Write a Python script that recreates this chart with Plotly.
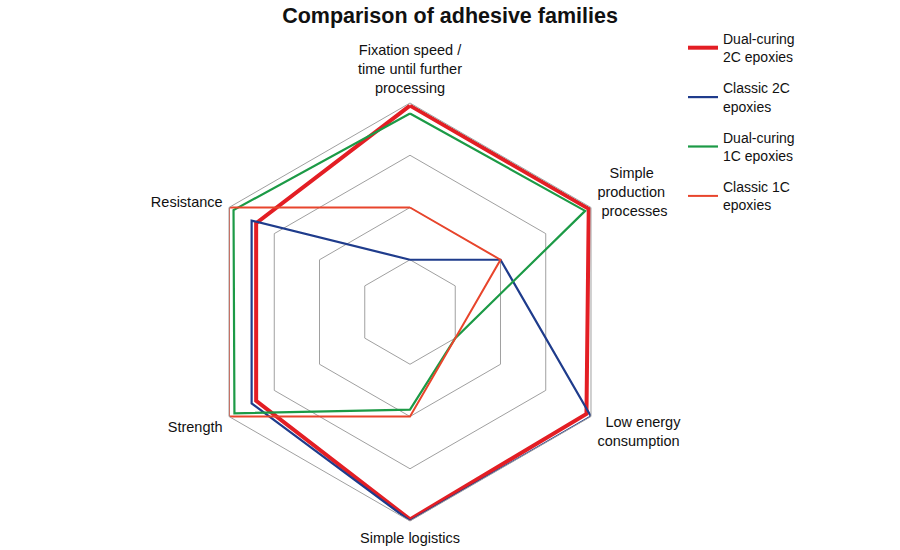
import plotly.graph_objects as go

NB = "\u00a0"
categories = [
    "Fixation speed /<br>time until further<br>processing",
    NB * 3 + "Simple<br>production<br>" + NB + "processes",
    NB * 2 + "Low energy<br>consumption",
    "Simple logistics",
    "Strength",
    "Resistance",
]

series_names = [
    "Dual-curing<br>2C epoxies",
    "Classic 2C<br>epoxies",
    "Dual-curing<br>1C epoxies",
    "Classic 1C<br>epoxies",
]

dual_2c = [3.95, 3.95, 3.9, 3.97, 3.4, 3.4]
classic_2c = [1.0, 2.0, 4.0, 4.0, 3.5, 3.5]
dual_1c = [3.8, 3.87, 1.0, 1.87, 3.88, 3.9]
classic_1c = [2.0, 2.0, 1.0, 2.0, 4.0, 4.0]

series_values = [dual_2c, classic_2c, dual_1c, classic_1c]
colors = ["#e31e24", "#1f3c8c", "#1c9a46", "#e8452c"]
widths = [4, 2.2, 2.2, 2]

fig = go.Figure()
for i, (name, vals) in enumerate(zip(series_names, series_values)):
    fig.add_trace(go.Scatterpolar(
        r=vals + [vals[0]],
        theta=categories + [categories[0]],
        mode="lines",
        name=name,
        legendgroup=f"g{i}",
        line=dict(color=colors[i], width=widths[i]),
    ))

cx, cy, R = 410, 312, 209
W, H = 900, 550

fig.update_layout(
    width=W, height=H,
    margin=dict(l=0, r=0, t=0, b=0),
    paper_bgcolor="white",
    plot_bgcolor="white",
    font=dict(family="Liberation Sans, Arial, sans-serif", color="#111111"),
    title=dict(
        text="<b>Comparison of adhesive families</b>",
        x=0.5, xanchor="center", y=1 - 15 / H, yanchor="middle",
        font=dict(size=21.5, color="#111111"),
    ),
    polar=dict(
        domain=dict(x=[(cx - R) / W, (cx + R) / W], y=[1 - (cy + R) / H, 1 - (cy - R) / H]),
        gridshape="linear",
        bgcolor="white",
        radialaxis=dict(
            range=[0, 4], dtick=1, tick0=0,
            showticklabels=False, ticks="",
            showline=False,
            gridcolor="#a0a0a0", gridwidth=1,
        ),
        angularaxis=dict(
            direction="clockwise", rotation=90,
            showgrid=False,
            showline=True, linecolor="#a0a0a0", linewidth=1,
            ticks="outside", ticklen=4, tickcolor="rgba(0,0,0,0)",
            tickfont=dict(size=14.5, color="#111111"),
        ),
    ),
    legend=dict(
        x=683 / W, y=1 - 23 / H, xanchor="left", yanchor="top",
        font=dict(size=14, color="#111111"),
        tracegroupgap=10,
        itemwidth=30,
        bgcolor="rgba(0,0,0,0)",
    ),
)

fig.write_html("out.html")
